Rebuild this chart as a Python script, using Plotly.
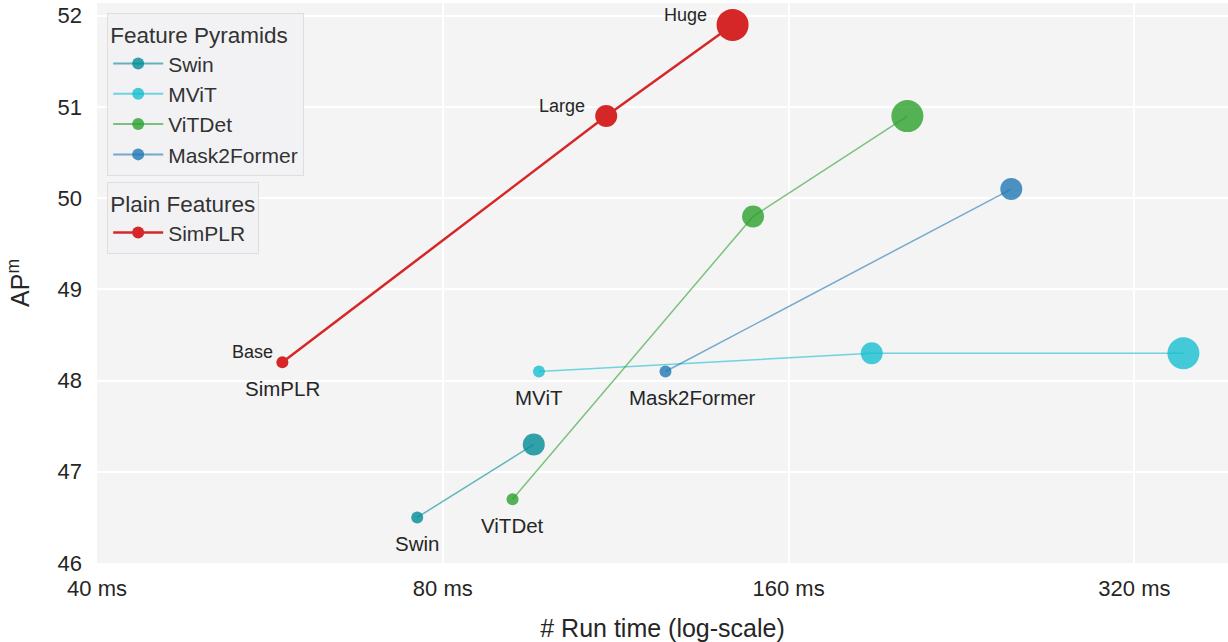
import math
import plotly.graph_objects as go

# ---- data (run time in ms, AP^m) ----
simplr_x = [58, 111, 143]
simplr_y = [48.2, 50.9, 51.9]
simplr_sizes = ["Base", "Large", "Huge"]

swin_x = [76, 96]
swin_y = [46.5, 47.3]

mvit_x = [97, 189, 353]
mvit_y = [48.1, 48.3, 48.3]

vitdet_x = [92, 149, 203]
vitdet_y = [46.7, 49.8, 50.9]

m2f_x = [125, 250]
m2f_y = [48.1, 50.1]

x_tickvals = [40, 80, 160, 320]
x_ticktext = ["40 ms", "80 ms", "160 ms", "320 ms"]
y_tickvals = [46, 47, 48, 49, 50, 51, 52]

FONT = "Liberation Sans, Arial, sans-serif"
SZ = {"Base": 12, "Large": 22, "Huge": 32}

series = [
    # name, x, y, size keys, marker colour, line colour, legend
    ("Swin", swin_x, swin_y, ["Base", "Large"], "rgba(0,139,150,0.8)", "rgba(0,139,150,0.6)", "legend"),
    ("MViT", mvit_x, mvit_y, ["Base", "Large", "Huge"], "rgba(23,190,207,0.8)", "rgba(23,190,207,0.6)", "legend"),
    ("ViTDet", vitdet_x, vitdet_y, ["Base", "Large", "Huge"], "rgba(44,160,44,0.8)", "rgba(44,160,44,0.6)", "legend"),
    ("Mask2Former", m2f_x, m2f_y, ["Base", "Large"], "rgba(31,119,180,0.8)", "rgba(31,119,180,0.6)", "legend"),
    ("SimPLR", simplr_x, simplr_y, simplr_sizes, "#d62728", "#d62728", "legend2"),
]

fig = go.Figure()
for name, xs, ys, keys, mc, lc, lg in series:
    lw = 2.5 if name == "SimPLR" else 1.5
    fig.add_trace(go.Scatter(
        x=xs, y=ys, mode="lines+markers", name=name, showlegend=False,
        line=dict(color=lc, width=lw),
        marker=dict(color=mc, size=[SZ[k] for k in keys], opacity=1, line=dict(width=0)),
    ))
# legend entries (constant marker size)
for name, xs, ys, keys, mc, lc, lg in series:
    lw = 2.5 if name == "SimPLR" else 2
    fig.add_trace(go.Scatter(
        x=[None], y=[None], mode="lines+markers", name=name, legend=lg,
        line=dict(color=lc, width=lw),
        marker=dict(color=mc, size=12, opacity=1, line=dict(width=0)),
    ))

annotations = []
# series names below the first point
for name, xs, ys, keys, mc, lc, lg in series:
    annotations.append(dict(
        x=math.log10(xs[0]), y=ys[0], xref="x", yref="y", text=name, showarrow=False,
        xanchor="center", yanchor="middle", yshift=-26,
        xshift=27 if name == "Mask2Former" else 0,
        font=dict(family=FONT, size=20.5, color="#262626"),
    ))
# model size labels for SimPLR
for lab, xv, yv, xs_ in zip(simplr_sizes, simplr_x, simplr_y, [-7, -19, -24]):
    annotations.append(dict(
        x=math.log10(xv), y=yv, xref="x", yref="y", text=lab, showarrow=False,
        xanchor="right", yanchor="middle", xshift=xs_, yshift=10,
        font=dict(family=FONT, size=18, color="#262626"),
    ))

legend_common = dict(
    x=0.009, xanchor="left", yanchor="top",
    bgcolor="rgba(241,241,244,0.85)", bordercolor="#dedede", borderwidth=1,
    font=dict(family=FONT, size=21, color="#333333"),
    itemwidth=50,
)

fig.update_layout(
    width=1228, height=642,
    margin=dict(l=97, r=0, t=3, b=79),
    paper_bgcolor="white", plot_bgcolor="#f4f4f4",
    font=dict(family=FONT, color="#333333"),
    annotations=annotations,
    legend=dict(
        title=dict(text="Feature Pyramids", font=dict(family=FONT, size=22.5, color="#333333")),
        y=0.982, **legend_common,
    ),
    legend2=dict(
        title=dict(text="Plain Features", font=dict(family=FONT, size=22.5, color="#333333")),
        y=0.680, **legend_common,
    ),
    xaxis=dict(
        type="log", range=[math.log10(40), math.log10(386)],
        tickvals=x_tickvals, ticktext=x_ticktext,
        tickfont=dict(family=FONT, size=22, color="#262626"),
        showgrid=True, gridcolor="white", gridwidth=1.5, zeroline=False,
        showline=False, ticks="", ticklabelstandoff=10,
        title=dict(text="# Run time (log-scale)", font=dict(family=FONT, size=25, color="#262626"), standoff=20),
    ),
    yaxis=dict(
        range=[46, 52.14], tickvals=y_tickvals,
        tickfont=dict(family=FONT, size=22, color="#262626"),
        showgrid=True, gridcolor="white", gridwidth=1.5, zeroline=False,
        showline=False, ticks="", ticklabelstandoff=14,
        title=dict(text="AP<sup>m</sup>", font=dict(family=FONT, size=25, color="#262626"), standoff=20),
    ),
)

fig.write_html("out.html", config={"displayModeBar": False},
               post_script="document.body.style.margin='0px';")
